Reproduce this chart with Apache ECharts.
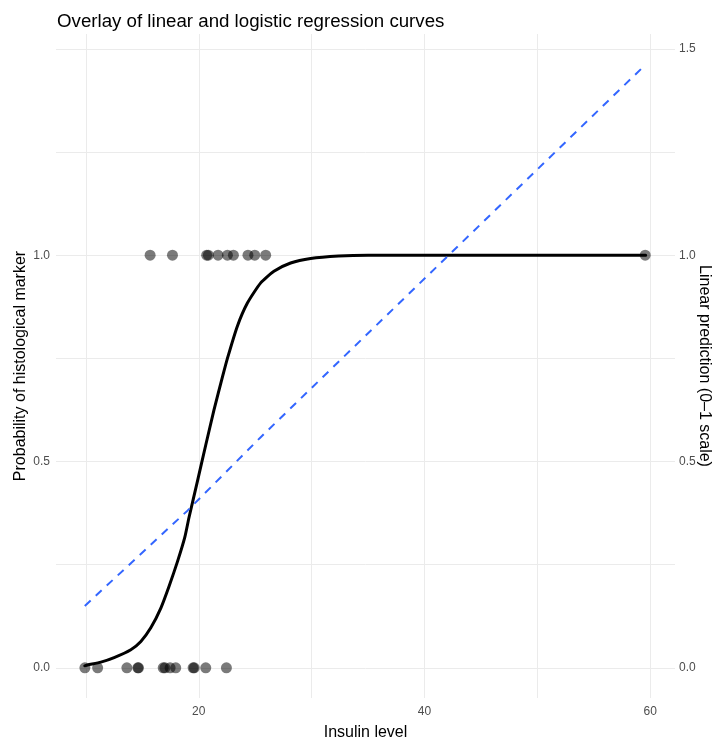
<!DOCTYPE html>
<html>
<head>
<meta charset="utf-8">
<script src="https://cdn.jsdelivr.net/npm/echarts@6/dist/echarts.min.js"></script>
<style>html,body{margin:0;padding:0;background:#fff;}#c{width:714px;height:742px;}</style>
</head>
<body>
<div id="c"></div>
<script>
// Logistic fitted curve
const logisX = [9.9, 10.15, 11.33, 12.5, 13.98, 14.87, 15.75, 16.64, 17.37, 18.12, 18.76, 19.14, 19.88, 20.62, 21.35, 22.1, 22.54, 23.42, 24.31, 25.49, 26.66, 28.14, 29.91, 32.39, 35, 40, 45, 50, 55, 59.6];
const logisY = [0.005, 0.007, 0.014, 0.025, 0.044, 0.064, 0.097, 0.145, 0.198, 0.258, 0.316, 0.365, 0.452, 0.54, 0.625, 0.705, 0.75, 0.828, 0.884, 0.933, 0.961, 0.981, 0.992, 0.998, 1, 1, 1, 1, 1, 1];
// Linear prediction (dashed)
const linX = [9.9, 19.0, 25.49, 59.6];
const linY = [0.15, 0.381, 0.559, 1.462];
// Observed points
const posX = [15.69, 17.67, 20.7, 20.85, 21.71, 22.54, 23.07, 24.36, 24.96, 25.93, 59.56];
const negX = [9.91, 11.04, 13.63, 14.6, 14.66, 16.85, 17.0, 17.46, 17.96, 19.5, 19.6, 20.62, 22.45];
// Ticks
const xGrid = [10, 20, 30, 40, 50, 60];
const xLabels = [20, 40, 60];
const yGrid = [0, 0.25, 0.5, 0.75, 1, 1.25, 1.5];
const yLeftLabels = [0, 0.5, 1];
const yRightLabels = [0, 0.5, 1, 1.5];

const zip = (a, b) => a.map((v, i) => [v, b[i]]);
const pts = posX.map(x => [x, 1]).concat(negX.map(x => [x, 0]));

const chart = echarts.init(document.getElementById('c'));
const tickFont = {color: '#4d4d4d', fontSize: 12, fontFamily: 'Liberation Sans'};
const gridLine = {show: true, lineStyle: {color: '#ebebeb', width: 1}};
const nameFont = {fontSize: 16, color: '#000', fontFamily: 'Liberation Sans'};
chart.setOption({
  animation: false,
  backgroundColor: '#fff',
  title: {
    text: 'Overlay of linear and logistic regression curves',
    left: 52, top: 7,
    textStyle: {fontSize: 18.7, fontWeight: 'normal', color: '#000', fontFamily: 'Liberation Sans'}
  },
  grid: {left: 56, right: 39, top: 34, bottom: 44, containLabel: false, outerBoundsMode: 'none'},
  xAxis: {
    type: 'value', min: 7.35, max: 62.2,
    name: 'Insulin level', nameLocation: 'middle', nameGap: 27, nameMoveOverlap: false,
    nameTextStyle: nameFont,
    axisLine: {show: false},
    axisTick: {show: false, customValues: xGrid},
    axisLabel: Object.assign({customValues: xLabels, margin: 8}, tickFont),
    splitLine: gridLine
  },
  yAxis: [{
    type: 'value', min: -0.073, max: 1.536,
    name: 'Probability of histological marker', nameLocation: 'middle', nameGap: 27, nameMoveOverlap: false,
    nameTextStyle: nameFont,
    axisLine: {show: false},
    axisTick: {show: false, customValues: yGrid},
    axisLabel: Object.assign({customValues: yLeftLabels, margin: 6, formatter: v => v.toFixed(1)}, tickFont),
    splitLine: gridLine
  }, {
    type: 'value', min: -0.073, max: 1.536, position: 'right',
    name: 'Linear prediction (0\u20131 scale)', nameLocation: 'middle', nameGap: 21, nameRotate: -90, nameMoveOverlap: false,
    nameTextStyle: nameFont,
    axisLine: {show: false},
    axisTick: {show: false, customValues: yRightLabels},
    axisLabel: Object.assign({customValues: yRightLabels, margin: 4, formatter: v => v.toFixed(1)}, tickFont),
    splitLine: {show: false}
  }],
  series: [{
    type: 'scatter', data: pts, symbolSize: 11, z: 2,
    itemStyle: {color: 'rgba(0,0,0,0.65)'}
  }, {
    type: 'line', data: zip(logisX, logisY), showSymbol: false, smooth: 0.2, z: 3,
    lineStyle: {color: '#000', width: 3, join: 'round', cap: 'round'}
  }, {
    type: 'line', data: zip(linX, linY), showSymbol: false, z: 4,
    lineStyle: {color: '#3366ff', width: 2, type: [8, 7]}
  }]
});
</script>
</body>
</html>
